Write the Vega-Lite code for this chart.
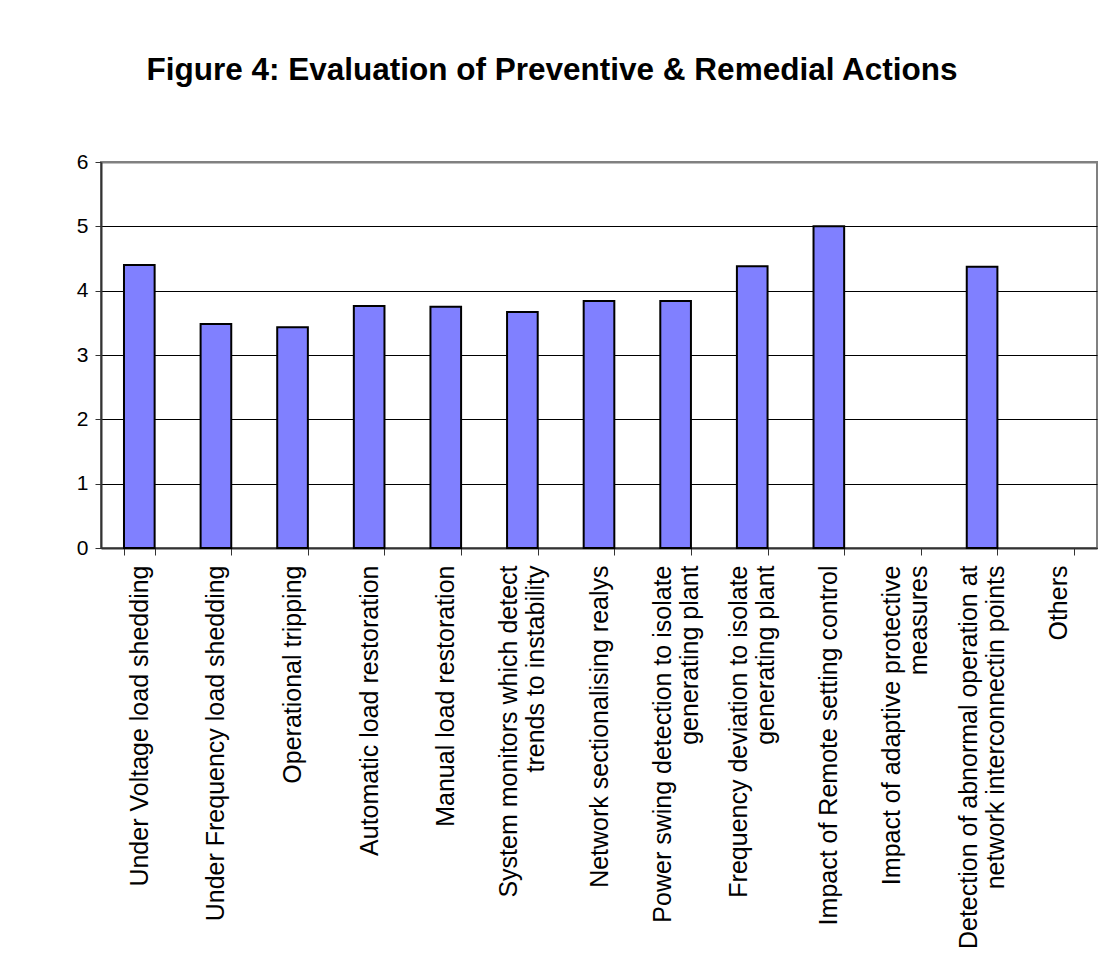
{
  "$schema": "https://vega.github.io/schema/vega-lite/v6.json",
  "width": 996,
  "height": 386,
  "autosize": {"type": "none"},
  "padding": {"left": 101, "top": 162, "right": 9, "bottom": 417},
  "background": "white",
  "title": {
    "text": "Figure 4: Evaluation of  Preventive & Remedial Actions",
    "font": "Liberation Sans",
    "fontSize": 31.5,
    "fontWeight": "bold",
    "color": "black",
    "anchor": "middle",
    "baseline": "alphabetic",
    "offset": 40,
    "dx": -47
  },
  "data": {
    "values": [
      {"action": "Under Voltage load shedding", "score": 4.40},
      {"action": "Under Frequency load shedding", "score": 3.48},
      {"action": "Operational tripping", "score": 3.43},
      {"action": "Automatic load restoration", "score": 3.76},
      {"action": "Manual load restoration", "score": 3.75},
      {"action": "System monitors which detect\ntrends to instability", "score": 3.67},
      {"action": "Network sectionalising realys", "score": 3.84},
      {"action": "Power swing detection to isolate\ngenerating plant", "score": 3.84},
      {"action": "Frequency deviation to isolate\ngenerating plant", "score": 4.38},
      {"action": "Impact of Remote setting control", "score": 5.0},
      {"action": "Impact of adaptive protective\nmeasures", "score": null},
      {"action": "Detection of abnormal operation at\nnetwork interconnectin points", "score": 4.37},
      {"action": "Others", "score": null}
    ]
  },
  "mark": {"type": "bar", "fill": "#8080FF", "stroke": "black", "strokeWidth": 2},
  "encoding": {
    "x": {
      "field": "action",
      "type": "nominal",
      "scale": {
        "domain": [
          "Under Voltage load shedding",
          "Under Frequency load shedding",
          "Operational tripping",
          "Automatic load restoration",
          "Manual load restoration",
          "System monitors which detect\ntrends to instability",
          "Network sectionalising realys",
          "Power swing detection to isolate\ngenerating plant",
          "Frequency deviation to isolate\ngenerating plant",
          "Impact of Remote setting control",
          "Impact of adaptive protective\nmeasures",
          "Detection of abnormal operation at\nnetwork interconnectin points",
          "Others"
        ],
        "paddingInner": 0.6,
        "paddingOuter": 0.3
      },
      "axis": {
        "title": null,
        "labelAngle": -90,
        "labelAlign": "right",
        "labelBaseline": "middle",
        "labelExpr": "split(datum.label, '\\n')",
        "labelFont": "Liberation Sans",
        "labelFontSize": 25,
        "labelLineHeight": 27,
        "labelColor": "black",
        "labelPadding": 10,
        "labelOffset": {"condition": {"test": "indexof(datum.label, '\\n') >= 0", "value": -13.5}, "value": 0},
        "labelLimit": 0,
        "labelOverlap": false,
        "tickBand": "extent",
        "tickSize": 7,
        "tickColor": "#333333",
        "domainColor": "#333333",
        "domainWidth": 2,
        "grid": false
      }
    },
    "y": {
      "field": "score",
      "type": "quantitative",
      "scale": {"domain": [0, 6], "nice": false},
      "axis": {
        "title": null,
        "values": [0, 1, 2, 3, 4, 5, 6],
        "labelFont": "Liberation Sans",
        "labelFontSize": 21,
        "labelColor": "black",
        "labelPadding": 7,
        "tickSize": 6,
        "tickColor": "#333333",
        "domainColor": "#333333",
        "domainWidth": 2,
        "grid": true,
        "gridColor": {"condition": {"test": "datum.value == 6", "value": "#808080"}, "value": "black"},
        "gridWidth": {"condition": {"test": "datum.value == 6", "value": 2}, "value": 1},
        "gridOpacity": 1
      }
    }
  },
  "config": {"view": {"stroke": "#808080", "strokeWidth": 2}}
}
